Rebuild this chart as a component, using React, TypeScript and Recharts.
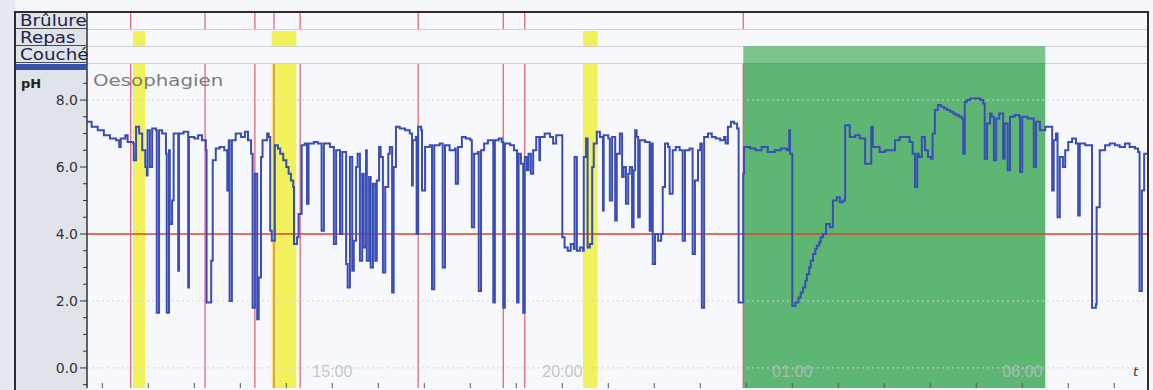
import React from "react";
import {
  ComposedChart,
  Line,
  XAxis,
  YAxis,
  ReferenceArea,
  ReferenceLine,
} from "recharts";

// ---- pH trace: [time in minutes since midnight of day 1, pH] ----
const traceAfternoon: [number, number][] = [
  [580, 7.35], [586, 7.2], [594, 7.1], [602, 6.95], [610, 6.85], [618, 6.8], [622, 6.6], [624, 6.85], [630, 6.95], [633, 6.75],
  [640, 6.7], [641, 6.2], [644, 7.2], [648, 7.0], [652, 6.5], [656, 6.0], [658, 5.75], [659, 7.1], [662, 6.0], [665, 7.15],
  [670, 7.1], [671, 1.65], [674, 7.1], [678, 7.0], [683, 6.4], [684, 1.65], [687, 6.5], [688, 4.3], [691, 5.0], [693, 7.0],
  [699, 2.9], [700, 7.0], [706, 7.05], [712, 2.4], [713, 6.9], [720, 6.85], [725, 6.95], [730, 6.8], [735, 6.5], [736, 1.95],
  [742, 3.2], [744, 6.2], [748, 6.55], [753, 6.6], [759, 6.5], [763, 5.3], [765, 6.8], [766, 2.0], [769, 6.8], [774, 7.0],
  [781, 6.9], [786, 7.05], [790, 6.8], [794, 6.4], [796, 1.8], [799, 5.8], [802, 1.45], [804, 2.7], [807, 6.3], [809, 6.8],
  [815, 7.0], [817, 6.9], [819, 4.1], [821, 3.8], [825, 6.65], [829, 6.55], [832, 6.4], [836, 6.2], [840, 6.0], [843, 5.8],
  [846, 5.6], [849, 5.4], [850, 3.7], [854, 3.9], [856, 4.6], [860, 6.65], [864, 6.7], [867, 4.9], [869, 6.7], [876, 6.75],
  [881, 6.7], [886, 4.1], [889, 6.7], [897, 6.6], [902, 3.7], [905, 6.5], [910, 4.0], [913, 6.45], [918, 3.1], [920, 2.4],
  [923, 6.3], [926, 2.9], [928, 3.8], [931, 6.0], [933, 6.4], [936, 3.2], [939, 5.8], [941, 3.6], [944, 6.5], [945, 3.2],
  [948, 5.7], [950, 3.0], [953, 5.5], [956, 3.2], [958, 5.6], [961, 6.6], [963, 6.3], [966, 2.85], [969, 5.4], [973, 6.4],
  [975, 6.6], [978, 2.25], [980, 6.0], [983, 7.2], [988, 7.15], [995, 7.1],
];
const traceEvening: [number, number][] = [
  [1001, 7.0], [1004, 5.45], [1005, 6.8], [1009, 6.9], [1010, 4.0], [1012, 7.2], [1016, 7.1], [1017, 5.3], [1021, 6.6], [1027, 6.65],
  [1030, 2.35], [1033, 6.65], [1040, 6.7], [1044, 3.0], [1047, 6.65], [1053, 6.5], [1060, 6.55], [1061, 5.5], [1064, 6.6], [1069, 6.9],
  [1074, 6.85], [1080, 6.8], [1082, 4.2], [1085, 6.4], [1090, 6.45], [1091, 2.3], [1094, 6.5], [1098, 6.7], [1103, 6.8], [1110, 1.95],
  [1112, 6.8], [1117, 6.85], [1121, 6.75], [1123, 1.8], [1125, 6.7], [1132, 6.65], [1137, 6.5], [1141, 1.95], [1143, 6.4], [1146, 6.1],
  [1149, 1.65], [1151, 6.3], [1154, 5.9], [1156, 6.4], [1159, 5.8], [1162, 6.5], [1166, 6.9], [1170, 6.2], [1171, 6.9], [1177, 7.0],
  [1184, 6.9], [1188, 6.7], [1192, 6.95], [1197, 6.95], [1200, 3.9], [1203, 3.6], [1207, 3.5], [1211, 3.7], [1215, 3.55], [1216, 6.3],
  [1219, 3.5], [1223, 3.6], [1227, 3.5], [1228, 6.3], [1231, 6.85], [1233, 3.6], [1236, 3.7], [1239, 6.0], [1241, 6.7], [1245, 7.05],
  [1249, 6.9], [1253, 4.7], [1254, 6.95], [1260, 6.85], [1262, 5.0], [1265, 6.9], [1269, 4.4], [1271, 6.4], [1275, 7.0], [1278, 5.7],
  [1280, 6.0], [1283, 4.9], [1286, 5.8], [1288, 6.0], [1291, 4.2], [1293, 5.9], [1295, 7.1], [1297, 6.9], [1299, 4.5], [1301, 6.8],
  [1308, 6.75], [1314, 4.1], [1316, 6.7], [1318, 3.1], [1321, 4.0], [1325, 3.8], [1329, 4.0], [1331, 5.4], [1334, 6.7], [1338, 6.6],
  [1340, 5.2], [1344, 6.5], [1348, 6.6], [1353, 6.5], [1357, 3.8], [1360, 6.5], [1366, 6.55], [1370, 3.4], [1373, 5.6], [1377, 6.5],
  [1380, 6.7], [1382, 1.8], [1385, 6.9], [1390, 7.0], [1395, 6.9], [1400, 6.85], [1406, 6.8], [1411, 6.9], [1413, 6.7], [1416, 7.2],
  [1420, 7.35], [1424, 7.3], [1428, 7.15], [1430, 1.95], [1434, 1.95],
];
const traceNight: [number, number][] = [
  [1436, 5.8], [1437, 6.6], [1445, 6.55], [1452, 6.5], [1460, 6.6], [1468, 6.45], [1477, 6.5], [1485, 6.55], [1493, 6.5], [1496, 7.1],
  [1497, 6.4], [1500, 1.85], [1504, 1.95], [1508, 2.1], [1511, 2.25], [1514, 2.4], [1517, 2.6], [1519, 2.8], [1522, 3.0], [1524, 3.2],
  [1527, 3.4], [1530, 3.55], [1532, 3.65], [1535, 3.75], [1537, 3.9], [1540, 4.0], [1544, 4.3], [1549, 4.2], [1553, 5.0], [1558, 5.1],
  [1562, 4.95], [1566, 5.0], [1569, 7.25], [1575, 6.9], [1582, 6.95], [1588, 6.85], [1595, 6.1], [1603, 7.2], [1605, 6.6], [1609, 6.6],
  [1614, 6.45], [1621, 6.5], [1627, 6.5], [1634, 6.8], [1640, 6.9], [1647, 6.9], [1653, 6.75], [1657, 6.4], [1660, 5.4], [1663, 6.4],
  [1665, 6.3], [1669, 6.9], [1673, 6.5], [1677, 6.3], [1681, 6.25], [1683, 7.0], [1686, 7.7], [1690, 7.85], [1694, 7.8], [1698, 7.75],
  [1702, 7.7], [1706, 7.65], [1710, 7.6], [1713, 7.55], [1717, 7.5], [1721, 7.45], [1723, 6.4], [1725, 7.95], [1728, 8.0], [1732, 8.05],
  [1738, 8.05], [1745, 8.0], [1749, 7.9], [1751, 6.25], [1754, 7.3], [1758, 7.6], [1760, 7.5], [1763, 6.2], [1766, 7.45], [1770, 7.6],
  [1775, 6.25], [1777, 7.3], [1781, 5.9], [1784, 7.5], [1790, 7.55], [1796, 7.5], [1797, 5.85], [1800, 7.5], [1807, 7.45], [1815, 6.0],
  [1818, 7.35], [1823, 7.1],
];
const traceMorning: [number, number][] = [
  [1830, 7.2], [1836, 7.2], [1839, 5.3], [1841, 6.8], [1844, 7.0], [1846, 4.5], [1849, 6.3], [1853, 6.0], [1856, 6.5], [1860, 6.75],
  [1865, 6.85], [1870, 6.7], [1873, 4.55], [1875, 6.7], [1882, 6.65], [1888, 6.65], [1891, 1.8], [1896, 1.9], [1897, 4.8], [1901, 6.5],
  [1908, 6.65], [1914, 6.7], [1921, 6.65], [1927, 6.6], [1934, 6.7], [1940, 6.6], [1947, 6.55], [1951, 6.45], [1953, 2.3], [1956, 5.3],
  [1959, 6.4], [1964, 6.6],
];

// ---- events ----
const brulureTimes = [637, 734, 799, 824, 858, 1012, 1123, 1151, 1436];
const repasStart = [640, 821, 1227];
const repasEnd = [656, 853, 1246];
const coucheStart = [1436];
const coucheEnd = [1830];
const acidLimit = 4.0;
const gridLevels = [0, 2, 8];

// ---- axes ----
const hourTicks = [
  600, 660, 720, 780, 840, 900, 960, 1020, 1080, 1140, 1200, 1260, 1320, 1380, 1440, 1500, 1560,
  1620, 1680, 1740, 1800, 1860, 1920,
];
const labelTicks = [900, 1200, 1500, 1800];
const labelText = ["15:00", "20:00", "01:00", "06:00"];
const phTicks = [
  -0.5, 0, 0.5, 1, 1.5, 2, 2.5, 3, 3.5, 4, 4.5, 5, 5.5, 6, 6.5, 7, 7.5, 8, 8.5,
];
const phMajor = [0, 2, 4, 6, 8];
const rowLabels = ["Brûlure", "Repas", "Couché"];

const data = [...traceAfternoon, ...traceEvening, ...traceNight, ...traceMorning].map(([t, ph]) => ({ t, ph }));

// layout (in pH units of the single plot area)
const Y_TOP = 10.63;
const Y_BOT = -0.6;
const ROW1_BOT = 10.12; // Brûlure row bottom
const ROW2_BOT = 9.61; // Repas row bottom
const ROW3_BOT = 9.11; // Couché row bottom
const MAIN_TOP = 9.08;

const XTick = (props: any) => {
  const { x, y } = props;
  return <line x1={x} x2={x} y1={y} y2={y - 5} stroke="#555" strokeWidth={1} />;
};

const YTick = (props: any) => {
  const { x, y, payload } = props;
  const v = payload.value;
  const major = phMajor.indexOf(v) >= 0;
  return (
    <g>
      <line x1={x - (major ? 7 : 4)} x2={x} y1={y} y2={y} stroke="#333" strokeWidth={1} />
      {major && (
        <text
          x={x - 9}
          y={y + 5}
          textAnchor="end"
          fontSize={14}
          fontFamily="'DejaVu Sans', Verdana, sans-serif"
          fill="#333"
        >
          {v.toFixed(1)}
        </text>
      )}
    </g>
  );
};

const timeLabel = (text: string) => (props: any) => {
  const vb = props.viewBox || {};
  return (
    <text
      x={(vb.x || 0) + (vb.width || 0) / 2}
      y={(vb.y || 0) + (vb.height || 0) - 11}
      textAnchor="middle"
      fontSize={16}
      fontFamily="'Liberation Sans', Arial, sans-serif"
      fill="#b8bcc5"
      fillOpacity={0.85}
    >
      {text}
    </text>
  );
};

const stretch = (k: number): React.CSSProperties => ({
  display: "inline-block",
  transform: `scaleX(${k})`,
  transformOrigin: "left center",
  whiteSpace: "nowrap",
});

export default function App() {
  return (
    <div
      style={{
        position: "absolute",
        left: 0,
        top: 0,
        width: 1153,
        height: 390,
        background: "#f3f5f8",
        overflow: "hidden",
        fontFamily: "'DejaVu Sans', Verdana, sans-serif",
      }}
    >
      <div style={{ position: "absolute", left: 0, top: 0, width: 15, height: 390, background: "#e6e9ef" }} />
      <div style={{ position: "absolute", left: 15, top: 12, width: 72, height: 378, background: "#e0e3ea" }} />
      <div style={{ position: "absolute", left: 87, top: 12, width: 1061, height: 376, background: "#f7f8fb" }} />
      {[29, 46, 63].map((y) => (
        <div key={y} style={{ position: "absolute", left: 87, top: y, width: 1061, height: 1, background: "#cdd0d8" }} />
      ))}

      <div style={{ position: "absolute", left: 0, top: 0 }}>
        <ComposedChart
          width={1153}
          height={390}
          data={data}
          margin={{ top: 12, right: 5, bottom: 0, left: 27 }}
        >
          {gridLevels.map((g) => (
            <ReferenceLine key={"g" + g} y={g} stroke="#cdd1da" strokeDasharray="2 3" ifOverflow="visible" />
          ))}
          <ReferenceLine y={acidLimit} stroke="#e2412c" strokeWidth={1.5} ifOverflow="visible" />
          {brulureTimes.map((t) => (
            <ReferenceLine
              key={"b" + t}
              segment={[{ x: t, y: Y_TOP }, { x: t, y: ROW1_BOT }]}
              stroke="#e45b73"
              strokeWidth={1.2}
              ifOverflow="visible"
            />
          ))}
          {brulureTimes.map((t) => (
            <ReferenceLine
              key={"bm" + t}
              segment={[{ x: t, y: MAIN_TOP }, { x: t, y: Y_BOT }]}
              stroke="#e45b73"
              strokeWidth={1.2}
              ifOverflow="visible"
            />
          ))}
          <XAxis
            type="number"
            dataKey="t"
            domain={[580, 1964]}
            allowDataOverflow
            ticks={hourTicks}
            interval={0}
            height={2}
            tickSize={0}
            tickMargin={0}
            tickLine={false}
            axisLine={false}
            tick={<XTick />}
          />
          <YAxis
            type="number"
            domain={[Y_BOT, Y_TOP]}
            allowDataOverflow
            ticks={phTicks}
            interval={0}
            width={60}
            tickSize={0}
            tickMargin={0}
            tickLine={false}
            axisLine={{ stroke: "#333", strokeWidth: 1.5 }}
            tick={<YTick />}
          />
          {coucheStart.map((s, i) => (
            <ReferenceArea
              key={"cr" + s}
              x1={s}
              x2={coucheEnd[i]}
              y1={ROW2_BOT}
              y2={ROW3_BOT}
              fill="#2aa145"
              fillOpacity={0.6}
              stroke="none"
              ifOverflow="visible"
            />
          ))}
          {coucheStart.map((s, i) => (
            <ReferenceArea
              key={"cm" + s}
              x1={s}
              x2={coucheEnd[i]}
              y1={ROW3_BOT}
              y2={Y_BOT}
              fill="#2aa145"
              fillOpacity={0.75}
              stroke="none"
              ifOverflow="visible"
            />
          ))}
          {labelTicks.map((t, i) => (
            <ReferenceArea
              key={"lt" + t}
              x1={t - 1}
              x2={t + 1}
              y1={Y_BOT}
              y2={Y_BOT + 1}
              fill="none"
              fillOpacity={0}
              stroke="none"
              ifOverflow="visible"
              label={timeLabel(labelText[i])}
            />
          ))}
          <Line
            type="stepAfter"
            dataKey="ph"
            stroke="#3a4db6"
            strokeWidth={2}
            dot={false}
            activeDot={false}
            isAnimationActive={false}
          />
          {repasStart.map((s, i) => (
            <ReferenceArea
              key={"rr" + s}
              x1={s}
              x2={repasEnd[i]}
              y1={ROW1_BOT - 0.06}
              y2={ROW2_BOT}
              fill="#eeee30"
              fillOpacity={0.8}
              stroke="none"
              ifOverflow="visible"
            />
          ))}
          {repasStart.map((s, i) => (
            <ReferenceArea
              key={"rm" + s}
              x1={s}
              x2={repasEnd[i]}
              y1={MAIN_TOP}
              y2={Y_BOT}
              fill="#eeee30"
              fillOpacity={0.78}
              stroke="none"
              ifOverflow="visible"
            />
          ))}
        </ComposedChart>
      </div>

      {/* frame */}
      <div style={{ position: "absolute", left: 15, top: 11, width: 1134, height: 2, background: "#2d2d2d" }} />
      <div style={{ position: "absolute", left: 14, top: 11, width: 2, height: 379, background: "#2d2d2d" }} />
      <div style={{ position: "absolute", left: 1147, top: 11, width: 2, height: 379, background: "#2d2d2d" }} />

      {/* left panel rows */}
      {rowLabels.map((lab, i) => (
        <div
          key={lab}
          style={{
            position: "absolute",
            left: 16,
            top: 13 + i * 17,
            width: 71,
            height: 16,
            borderBottom: "1px solid #4a4a4a",
            color: "#1c2448",
            fontSize: 15,
            lineHeight: "16px",
            paddingLeft: 4,
            boxSizing: "border-box",
          }}
        >
          <span style={stretch(1.22)}>{lab}</span>
        </div>
      ))}
      <div style={{ position: "absolute", left: 16, top: 64, width: 71, height: 6, background: "#3552a8" }} />
      <div
        style={{
          position: "absolute",
          left: 21,
          top: 76,
          fontSize: 13,
          fontWeight: "bold",
          color: "#222",
        }}
      >
        pH
      </div>
      <div
        style={{
          position: "absolute",
          left: 93,
          top: 72,
          fontSize: 15,
          color: "#7c7c7c",
        }}
      >
        <span style={stretch(1.32)}>Oesophagien</span>
      </div>
      <div
        style={{
          position: "absolute",
          left: 1133,
          top: 364,
          fontSize: 13,
          fontStyle: "italic",
          color: "#333",
        }}
      >
        t
      </div>
    </div>
  );
}
